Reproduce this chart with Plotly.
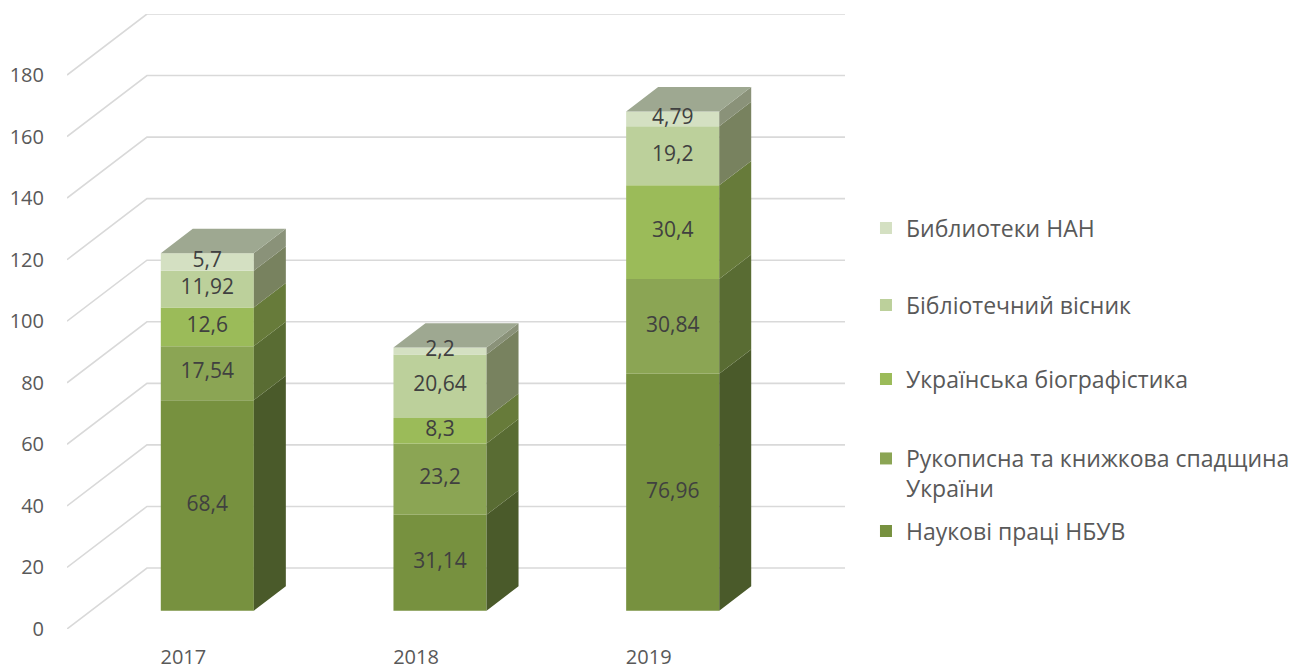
import plotly.graph_objects as go

# ---------------- data ----------------
years = ["2017", "2018", "2019"]
series_names = [
    "Наукові праці НБУВ",
    "Рукописна та книжкова спадщина<br>України",
    "Українська біографістика",
    "Бібліотечний вісник",
    "Библиотеки НАН",
]
naukovi = [68.4, 31.14, 76.96]
rukopysna = [17.54, 23.2, 30.84]
biografistyka = [12.6, 8.3, 30.4]
visnyk = [11.92, 20.64, 19.2]
biblioteky = [5.7, 2.2, 4.79]
series_values = [naukovi, rukopysna, biografistyka, visnyk, biblioteky]
y_ticks = [0, 20, 40, 60, 80, 100, 120, 140, 160, 180]

# ---------------- style ----------------
front_colors = ["#77913f", "#8ba554", "#9bbb59", "#bcd09b", "#d4e0c2"]
side_colors = ["#4a5a2a", "#596c33", "#677b3a", "#78825f", "#8a9279"]
top_color = "#9ea891"
grid_color = "#d9d9d9"
text_gray = "#595959"
label_color = "#404040"
FONT = "Open Sans"

FIG_W, FIG_H = 1290, 663   # page body has an 8px margin

DXU = 0.3436      # full depth offset along x (category units)
DYU = 19.82       # full depth offset along y (value units)
F0, F1 = 0.3, 0.7  # bar front/back depth fractions
BAR_W = 0.4

cats = list(range(len(years)))
fig = go.Figure()

# 3D gridlines (back wall + left wall diagonals) as shapes below traces
shapes = []
x_left = -0.5
x_right = len(years) - 0.5
for v in y_ticks:
    path = (f"M {x_left} {v} L {x_left + DXU} {v + DYU} "
            f"L {x_right + DXU} {v + DYU}")
    shapes.append(dict(type="path", path=path, xref="x", yref="y",
                       line=dict(color=grid_color, width=1.6), layer="below"))

# stacked front faces
cum = [0.0] * len(years)
bases = []
for i, vals in enumerate(series_values):
    bases.append(list(cum))
    fig.add_trace(go.Bar(
        x=[c + F0 * DXU for c in cats],
        y=vals,
        base=[b + F0 * DYU for b in cum],
        width=BAR_W,
        name=series_names[i],
        marker=dict(color=front_colors[i], line=dict(width=0)),
        legend="legend" if i == 0 else f"legend{i + 1}",
        hoverinfo="skip",
    ))
    cum = [b + v for b, v in zip(cum, vals)]
totals = cum

dDX = (F1 - F0) * DXU
dDY = (F1 - F0) * DYU

# side faces
for i, vals in enumerate(series_values):
    xs, ys = [], []
    for c, b, v in zip(cats, bases[i], vals):
        xr = c + F0 * DXU + BAR_W / 2
        b0 = b + F0 * DYU
        t0 = b + v + F0 * DYU
        xs += [xr, xr, xr + dDX, xr + dDX, xr, None]
        ys += [b0, t0, t0 + dDY, b0 + dDY, b0, None]
    fig.add_trace(go.Scatter(x=xs, y=ys, mode="lines", fill="toself",
                             fillcolor=side_colors[i],
                             line=dict(width=0, color=side_colors[i]),
                             showlegend=False, hoverinfo="skip"))

# top faces
xs, ys = [], []
for c, t in zip(cats, totals):
    xl = c + F0 * DXU - BAR_W / 2
    xr = c + F0 * DXU + BAR_W / 2
    t0 = t + F0 * DYU
    xs += [xl, xr, xr + dDX, xl + dDX, xl, None]
    ys += [t0, t0, t0 + dDY, t0 + dDY, t0, None]
fig.add_trace(go.Scatter(x=xs, y=ys, mode="lines", fill="toself",
                         fillcolor=top_color,
                         line=dict(width=0, color=top_color),
                         showlegend=False, hoverinfo="skip"))

# data labels
for i, vals in enumerate(series_values):
    fig.add_trace(go.Scatter(
        x=[c + F0 * DXU for c in cats],
        y=[b + v / 2 + F0 * DYU for b, v in zip(bases[i], vals)],
        mode="text",
        text=[f"{v:g}".replace(".", ",") for v in vals],
        textfont=dict(family=FONT, size=21, color=label_color),
        showlegend=False, hoverinfo="skip",
    ))

legend_y_px = [523, 445, 371, 297, 220]
legend_common = dict(xref="container", yref="container", x=0.6651,
                     xanchor="left", bgcolor="rgba(0,0,0,0)",
                     font=dict(family=FONT, size=23, color=text_gray))
layout_legends = {}
for i, py in enumerate(legend_y_px):
    key = "legend" if i == 0 else f"legend{i + 1}"
    d = dict(legend_common)
    if i == 1:
        d.update(y=1 - (py - 16) / FIG_H, yanchor="top", valign="top")
    else:
        d.update(y=1 - py / FIG_H, yanchor="middle")
    layout_legends[key] = d

fig.update_layout(
    width=FIG_W, height=FIG_H, autosize=False,
    margin=dict(l=59, r=453, t=6, b=42, autoexpand=False),
    paper_bgcolor="white", plot_bgcolor="white",
    barmode="overlay",
    shapes=shapes,
    xaxis=dict(range=[x_left, x_right + DXU], tickvals=cats, ticktext=years,
               showgrid=False, zeroline=False, showline=False, ticks="",
               automargin=False, ticklabelstandoff=14,
               tickfont=dict(family=FONT, size=20, color=text_gray)),
    yaxis=dict(range=[0, 180 + DYU], tickvals=y_ticks,
               showgrid=False, zeroline=False, showline=False, ticks="",
               automargin=False, ticklabelstandoff=22,
               tickfont=dict(family=FONT, size=20, color=text_gray)),
    **layout_legends,
)

fig.write_html("out.html")
